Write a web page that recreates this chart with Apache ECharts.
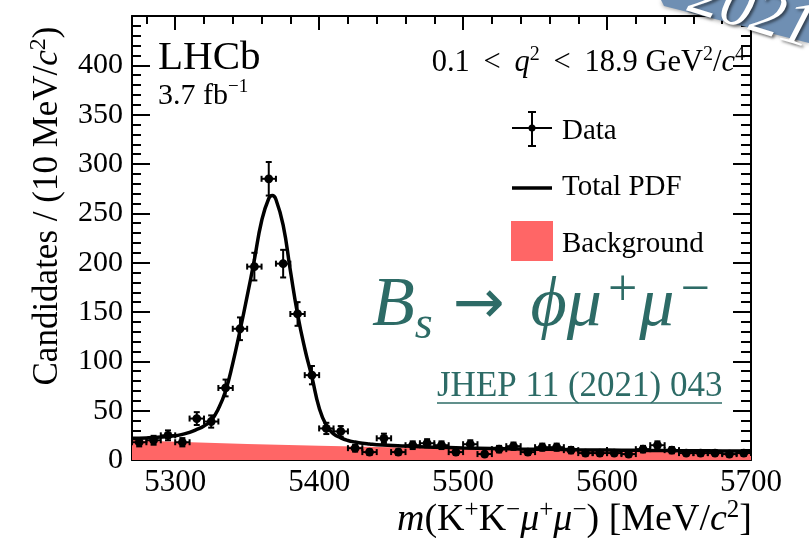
<!DOCTYPE html>
<html>
<head>
<meta charset="utf-8">
<script src="https://cdn.jsdelivr.net/npm/echarts@6/dist/echarts.min.js"></script>
<style>
  html, body { margin: 0; padding: 0; background: #ffffff; }
  #chart { width: 809px; height: 538px; }
</style>
</head>
<body>
<div id="chart"></div>
<script>
// B_s -> phi mu+ mu- candidates in 10 MeV bins of m(K+K-mu+mu-)
const binWidth = 10;
const massBins = [5275, 5285, 5295, 5305, 5315, 5325, 5335, 5345, 5355, 5365,
                  5375, 5385, 5395, 5405, 5415, 5425, 5435, 5445, 5455, 5465,
                  5475, 5485, 5495, 5505, 5515, 5525, 5535, 5545, 5555, 5565,
                  5575, 5585, 5595, 5605, 5615, 5625, 5635, 5645, 5655, 5665,
                  5675, 5685, 5695];
const candidates = [18, 20, 25, 18, 42, 39, 73, 133, 196, 285,
                    199, 148, 86, 32, 29, 12, 8, 22, 8, 15,
                    17, 15, 8, 16, 6, 11, 14, 8, 13, 13,
                    10, 7, 7, 7, 6, 11, 15, 10, 7, 7,
                    7, 6, 7];
const candidateErrors = [4.2, 4.5, 5, 4.2, 6.5, 6.2, 8.5, 11.5, 14, 17,
                         14, 12, 9.3, 5.7, 5.4, 3.5, 2.8, 4.7, 2.8, 3.9,
                         4.1, 3.9, 2.8, 4, 2.4, 3.3, 3.7, 2.8, 3.6, 3.6,
                         3.2, 2.6, 2.6, 2.6, 2.4, 3.3, 3.9, 3.2, 2.6, 2.6,
                         2.6, 2.4, 2.6];

// Total fit PDF
const pdfMass = [5270, 5280, 5290, 5300, 5305, 5310, 5315, 5320, 5325, 5330,
                 5335, 5340, 5345, 5350, 5355, 5360, 5365, 5367.5, 5370, 5375,
                 5380, 5385, 5390, 5395, 5400, 5405, 5410, 5415, 5420, 5425,
                 5430, 5435, 5440, 5460, 5480, 5500, 5520, 5540, 5560, 5580,
                 5600, 5620, 5640, 5660, 5680, 5700];
const pdfValue = [22, 22.4, 23.2, 24.5, 26, 28, 31, 34.5, 40, 52,
                  70, 98, 131, 166, 203, 242, 265, 268, 264, 238,
                  192, 148, 113, 84, 53, 35, 26.5, 22.5, 19.8, 18.2,
                  17, 16.2, 15.5, 14.1, 13, 12.2, 11.7, 11.2, 10.8, 10.4,
                  10.1, 9.8, 9.6, 9.4, 9.2, 9];

// Combinatorial background component
const bkgMass = [5270, 5300, 5350, 5400, 5450, 5500, 5550, 5600, 5650, 5700];
const bkgValue = [20, 18.4, 16.2, 14.5, 12.9, 11.4, 10.1, 8.9, 7.9, 7.0];

// Axis ticks
const xMajorTicks = [5300, 5400, 5500, 5600, 5700];
const xMinorTicks = [5280, 5300, 5320, 5340, 5360, 5380, 5400, 5420, 5440, 5460, 5480,
                     5500, 5520, 5540, 5560, 5580, 5600, 5620, 5640, 5660, 5680, 5700];
const yLabelTicks = [0, 50, 100, 150, 200, 250, 300, 350, 400];
const yMajorTicks = [0, 50, 100, 150, 200, 250, 300, 350, 400, 450];
const yMinorTicks = [10, 20, 30, 40, 60, 70, 80, 90, 110, 120, 130, 140, 160, 170, 180, 190,
                     210, 220, 230, 240, 260, 270, 280, 290, 310, 320, 330, 340, 360, 370,
                     380, 390, 410, 420, 430, 440];

const SERIF = '"Liberation Serif", "DejaVu Serif", serif';
const TEAL = '#2d6b66';
const BKG_RED = '#ff6666';

const pointData = massBins.map((m, i) => [m, candidates[i], candidateErrors[i]]);
const pdfData = pdfMass.map((m, i) => [m, pdfValue[i]]);
const bkgData = bkgMass.map((m, i) => [m, bkgValue[i]]);

function tickLine(len) {
  return { show: true, inside: true, length: len, lineStyle: { color: '#000', width: 2 } };
}

function plainNumber(v) { return String(v); }

function makeXAxis(position, ticks, len, withLine, withLabels) {
  const axis = {
    type: 'value', min: 5270, max: 5700, position: position,
    axisLine: { show: withLine, onZero: false, lineStyle: { color: '#000', width: 2 } },
    axisTick: Object.assign(tickLine(len), { customValues: ticks }),
    axisLabel: { show: false },
    splitLine: { show: false }
  };
  if (withLabels) {
    axis.axisLabel = { show: true, customValues: xMajorTicks, formatter: plainNumber, color: '#000',
                       fontFamily: SERIF, fontSize: 31, margin: 7 };
  }
  return axis;
}

function makeYAxis(position, ticks, len, withLine, withLabels) {
  const axis = {
    type: 'value', min: 0, max: 450, position: position,
    axisLine: { show: withLine, onZero: false, lineStyle: { color: '#000', width: 2 } },
    axisTick: Object.assign(tickLine(len), { customValues: ticks }),
    axisLabel: { show: false },
    splitLine: { show: false }
  };
  if (withLabels) {
    axis.axisLabel = { show: true, customValues: yLabelTicks, formatter: plainNumber, color: '#000',
                       fontFamily: SERIF, fontSize: 30, margin: 9 };
  }
  return axis;
}

function renderDataPoint(params, api) {
  const m = api.value(0), n = api.value(1), err = api.value(2);
  const c = api.coord([m, n]);
  const lo = api.coord([m, n - err]);
  const hi = api.coord([m, n + err]);
  const left = api.coord([m - binWidth / 2, n]);
  const right = api.coord([m + binWidth / 2, n]);
  const cap = 3;
  const st = { stroke: '#000', lineWidth: 2 };
  return {
    type: 'group',
    children: [
      { type: 'line', shape: { x1: lo[0], y1: lo[1], x2: hi[0], y2: hi[1] }, style: st },
      { type: 'line', shape: { x1: left[0], y1: left[1], x2: right[0], y2: right[1] }, style: st },
      { type: 'line', shape: { x1: lo[0] - cap, y1: lo[1], x2: lo[0] + cap, y2: lo[1] }, style: st },
      { type: 'line', shape: { x1: hi[0] - cap, y1: hi[1], x2: hi[0] + cap, y2: hi[1] }, style: st },
      { type: 'line', shape: { x1: left[0], y1: left[1] - cap, x2: left[0], y2: left[1] + cap }, style: st },
      { type: 'line', shape: { x1: right[0], y1: right[1] - cap, x2: right[0], y2: right[1] + cap }, style: st },
      { type: 'circle', shape: { cx: c[0], cy: c[1], r: 4.4 }, style: { fill: '#000' } }
    ]
  };
}

function serifText(size, extra) {
  return Object.assign({ fontSize: size, fontFamily: SERIF, fill: '#000' }, extra || {});
}

const chart = echarts.init(document.getElementById('chart'), null, { renderer: 'canvas' });

chart.setOption({
  backgroundColor: '#ffffff',
  animation: false,
  grid: { left: 132, right: 58, top: 16, bottom: 78, outerBoundsMode: 'none' },
  xAxis: [
    makeXAxis('bottom', xMajorTicks, 13, true, true),
    makeXAxis('bottom', xMinorTicks, 7, false, false),
    makeXAxis('top', xMajorTicks, 14, true, false),
    makeXAxis('top', xMinorTicks, 8, false, false)
  ],
  yAxis: [
    makeYAxis('left', yMajorTicks, 18, true, true),
    makeYAxis('left', yMinorTicks, 9, false, false),
    makeYAxis('right', yMajorTicks, 18, true, false),
    makeYAxis('right', yMinorTicks, 10, false, false)
  ],
  series: [
    {
      name: 'Background', type: 'line', xAxisIndex: 0, yAxisIndex: 0,
      data: bkgData, symbol: 'none', smooth: false,
      lineStyle: { width: 0, color: BKG_RED },
      areaStyle: { color: BKG_RED, opacity: 1, origin: 'start' },
      z: 1, silent: true
    },
    {
      name: 'Total PDF', type: 'line', xAxisIndex: 0, yAxisIndex: 0,
      data: pdfData, symbol: 'none', smooth: 0.5,
      lineStyle: { width: 3.5, color: '#000' },
      z: 3, silent: true
    },
    {
      name: 'Data', type: 'custom', xAxisIndex: 0, yAxisIndex: 0,
      data: pointData, renderItem: renderDataPoint, clip: true,
      encode: { x: 0, y: 1 }, z: 4, silent: true
    }
  ],
  graphic: {
    elements: [
      // corner ribbon
      {
        type: 'polygon', z: 100,
        shape: { points: [[661, 0], [809, 0], [809, 43], [664, 6]] },
        style: { fill: '#6f8fb3', shadowBlur: 4, shadowColor: 'rgba(0,0,0,0.35)', shadowOffsetY: 1 }
      },
      {
        type: 'text', z: 101, x: 752, y: 13, rotation: -0.3,
        style: serifText(64, { text: '2021', fill: '#ffffff', textAlign: 'center', textVerticalAlign: 'middle',
                               fontStyle: 'italic',
                               textShadowColor: 'rgba(0,0,0,0.55)', textShadowBlur: 3,
                               textShadowOffsetX: 2, textShadowOffsetY: 2 })
      },
      // axis titles
      {
        type: 'text', x: 48, y: 206, rotation: Math.PI / 2,
        style: serifText(35, {
          text: 'Candidates / (10 MeV/{i|c}{sup|2})', lineHeight: 42,
          textAlign: 'center', textVerticalAlign: 'middle',
          rich: {
            i: { fontSize: 35, fontFamily: SERIF, fontStyle: 'italic', lineHeight: 42 },
            sup: { fontSize: 24, fontFamily: SERIF, verticalAlign: 'top', lineHeight: 24 }
          }
        })
      },
      {
        type: 'text', x: 752, y: 520,
        style: serifText(38, {
          text: '{i|m}(K{sup|+}K{sup|\u2212}{i|\u03bc}{sup|+}{i|\u03bc}{sup|\u2212}) [MeV/{i|c}{sup|2}]',
          lineHeight: 44, textAlign: 'right', textVerticalAlign: 'middle',
          rich: {
            i: { fontSize: 38, fontFamily: SERIF, fontStyle: 'italic', lineHeight: 44 },
            sup: { fontSize: 25, fontFamily: SERIF, verticalAlign: 'top', lineHeight: 25 }
          }
        })
      },
      // experiment labels
      { type: 'text', x: 158, y: 58, style: serifText(41, { text: 'LHCb', textVerticalAlign: 'middle' }) },
      {
        type: 'text', x: 158, y: 96,
        style: serifText(30, {
          text: '3.7 fb{sup|\u22121}', lineHeight: 36, textVerticalAlign: 'middle',
          rich: { sup: { fontSize: 19, fontFamily: SERIF, verticalAlign: 'top', lineHeight: 19 } }
        })
      },
      {
        type: 'text', x: 745, y: 63,
        style: serifText(30.5, {
          text: '0.1\u2009 < \u2009{i|q}{sup|2}\u2009 < \u200918.9 GeV{sup|2}/{i|c}{sup|4}', lineHeight: 36,
          textAlign: 'right', textVerticalAlign: 'middle',
          rich: {
            i: { fontSize: 30.5, fontFamily: SERIF, fontStyle: 'italic', lineHeight: 36 },
            sup: { fontSize: 20, fontFamily: SERIF, verticalAlign: 'top', lineHeight: 20 }
          }
        })
      },
      // legend
      { type: 'line', shape: { x1: 512, y1: 128, x2: 552, y2: 128 }, style: { stroke: '#000', lineWidth: 2 } },
      { type: 'line', shape: { x1: 532, y1: 112, x2: 532, y2: 146 }, style: { stroke: '#000', lineWidth: 2 } },
      { type: 'line', shape: { x1: 528, y1: 112, x2: 536, y2: 112 }, style: { stroke: '#000', lineWidth: 2 } },
      { type: 'line', shape: { x1: 528, y1: 146, x2: 536, y2: 146 }, style: { stroke: '#000', lineWidth: 2 } },
      { type: 'circle', shape: { cx: 532, cy: 128, r: 3.5 }, style: { fill: '#000' } },
      { type: 'text', x: 562, y: 131, style: serifText(29, { text: 'Data', textVerticalAlign: 'middle' }) },
      { type: 'line', shape: { x1: 512, y1: 188, x2: 552, y2: 188 }, style: { stroke: '#000', lineWidth: 3.5 } },
      { type: 'text', x: 562, y: 187, style: serifText(29, { text: 'Total PDF', textVerticalAlign: 'middle' }) },
      { type: 'rect', shape: { x: 511, y: 221, width: 42, height: 40 }, style: { fill: BKG_RED } },
      { type: 'text', x: 562, y: 244, style: serifText(29, { text: 'Background', textVerticalAlign: 'middle' }) },
      // decay label
      {
        type: 'text', x: 372, y: 307,
        style: serifText(70, {
          text: '{i|B}{sub|s}{arr|\u2192}{i|\u03d5\u03bc}{sup|+}{i|\u03bc}{sup|\u2212}',
          fill: TEAL, lineHeight: 84, textAlign: 'left', textVerticalAlign: 'middle',
          rich: {
            i: { fontSize: 70, fontFamily: SERIF, fontStyle: 'italic', lineHeight: 84, color: TEAL },
            arr: { fontSize: 62, fontFamily: '"DejaVu Sans"', lineHeight: 84, color: TEAL, padding: [0, 26, 0, 20] },
            sup: { fontSize: 52, fontFamily: SERIF, verticalAlign: 'top', lineHeight: 58, color: TEAL, padding: [0, 2, 0, 6] },
            sub: { fontSize: 46, fontFamily: SERIF, fontStyle: 'italic', verticalAlign: 'bottom', lineHeight: 34, color: TEAL }
          }
        })
      },
      { type: 'text', x: 437, y: 387, style: serifText(35, { text: 'JHEP 11 (2021) 043', fill: TEAL, textVerticalAlign: 'middle' }) },
      { type: 'line', shape: { x1: 437, y1: 403, x2: 722, y2: 403 }, style: { stroke: TEAL, lineWidth: 1.5 } }
    ]
  }
});
</script>
</body>
</html>
